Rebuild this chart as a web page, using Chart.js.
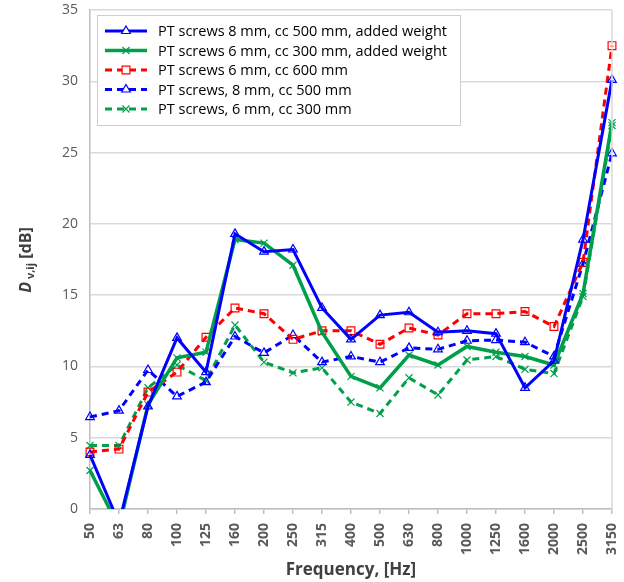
<!DOCTYPE html>
<html>
<head>
<meta charset="utf-8">
<script src="https://cdn.jsdelivr.net/npm/chart.js@4/dist/chart.umd.min.js"></script>
<style>
html, body { margin: 0; padding: 0; background: #fff; }
</style>
</head>
<body>
<canvas id="chart" width="624" height="582"></canvas>
<script>
// bandas de frecuencia (Hz)
var frecuencias = ['50', '63', '80', '100', '125', '160', '200', '250', '315', '400', '500', '630', '800', '1000', '1250', '1600', '2000', '2500', '3150'];

// D v,ij en dB
var pt8cc500Peso = [3.8, -1, 7.2, 12.0, 9.6, 19.3, 18.05, 18.2, 14.1, 11.9, 13.6, 13.8, 12.4, 12.5, 12.3, 8.5, 10.4, 18.9, 30.1];
var pt6cc300Peso = [2.7, -1.3, 7.3, 10.6, 11.0, 18.9, 18.65, 17.1, 12.4, 9.3, 8.5, 10.8, 10.1, 11.4, 11.0, 10.7, 10.1, 15.1, 27.1];
var pt6cc600 = [4.0, 4.2, 8.2, 9.6, 12.05, 14.1, 13.7, 11.9, 12.5, 12.5, 11.55, 12.7, 12.2, 13.7, 13.7, 13.85, 12.8, 17.3, 32.5];
var pt8cc500 = [6.45, 6.9, 9.75, 7.9, 8.9, 12.1, 10.95, 12.2, 10.3, 10.7, 10.3, 11.3, 11.2, 11.8, 11.85, 11.7, 10.7, 17.2, 24.95];
var pt6cc300 = [4.45, 4.45, 8.5, 10.1, 9.0, 12.9, 10.3, 9.55, 9.9, 7.5, 6.7, 9.2, 8.0, 10.45, 10.7, 9.8, 9.5, 14.9, 26.9];

var nombres = [
    'PT screws 8 mm, cc 500 mm, added weight',
    'PT screws 6 mm, cc 300 mm, added weight',
    'PT screws 6 mm, cc 600 mm',
    'PT screws, 8 mm, cc 500 mm',
    'PT screws, 6 mm, cc 300 mm'
];

var azul = '#0000ff';
var verde = '#00a04b';
var rojo = '#ff0000';
var fuente = "'Open Sans', 'Liberation Sans', sans-serif";

function serie(nombre, datos, color, estilo, radio, guiones, ancho) {
    return {
        label: nombre,
        data: datos,
        borderColor: color,
        backgroundColor: 'transparent',
        borderWidth: ancho,
        borderDash: guiones,
        pointStyle: estilo,
        pointRadius: radio,
        pointBorderColor: color,
        pointBackgroundColor: 'transparent',
        pointBorderWidth: 1.2,
        tension: 0
    };
}

// leyenda dentro del area del grafico, con caja
var leyenda = {
    id: 'leyenda',
    afterDraw: function (chart) {
        var ctx = chart.ctx;
        ctx.save();
        ctx.fillStyle = '#fff';
        ctx.fillRect(97, 15, 363, 110);
        ctx.strokeStyle = '#cfcfcf';
        ctx.lineWidth = 1;
        ctx.strokeRect(97.5, 15.5, 363, 110);
        chart.data.datasets.forEach(function (ds, i) {
            var y = 31 + i * 19.5;
            ctx.strokeStyle = ds.borderColor;
            ctx.lineWidth = ds.borderWidth;
            ctx.setLineDash(ds.borderDash);
            ctx.beginPath();
            ctx.moveTo(105, y);
            ctx.lineTo(147, y);
            ctx.stroke();
            ctx.setLineDash([]);
            ctx.lineWidth = 1.2;
            dibujarMarca(ctx, ds.pointStyle, 126, y, ds.pointRadius, ds.borderColor);
            ctx.fillStyle = '#000';
            ctx.font = '14.5px ' + fuente;
            ctx.textBaseline = 'middle';
            ctx.textAlign = 'left';
            ctx.fillText(ds.label, 158, y + 1);
        });
        ctx.restore();
    }
};

function dibujarMarca(ctx, estilo, x, y, r, color) {
    ctx.strokeStyle = color;
    ctx.fillStyle = '#fff';
    ctx.beginPath();
    if (estilo === 'triangle') {
        ctx.moveTo(x, y - r);
        ctx.lineTo(x + r * 0.87, y + r * 0.5);
        ctx.lineTo(x - r * 0.87, y + r * 0.5);
        ctx.closePath();
        ctx.fill();
    } else if (estilo === 'rect') {
        var s = r * Math.SQRT1_2;
        ctx.rect(x - s, y - s, 2 * s, 2 * s);
        ctx.fill();
    } else {
        var d = r * Math.SQRT1_2;
        ctx.moveTo(x - d, y - d); ctx.lineTo(x + d, y + d);
        ctx.moveTo(x + d, y - d); ctx.lineTo(x - d, y + d);
    }
    ctx.stroke();
}

// titulo del eje y con subindice
var tituloY = {
    id: 'tituloY',
    afterDraw: function (chart) {
        var ctx = chart.ctx;
        var partes = [
            { t: 'D', f: 'italic bold 16px ' + fuente, dy: 0 },
            { t: ' v,ij', f: 'bold 11px ' + fuente, dy: 3 },
            { t: ' [dB]', f: 'bold 16px ' + fuente, dy: 0 }
        ];
        ctx.save();
        var total = 0;
        partes.forEach(function (p) { ctx.font = p.f; total += ctx.measureText(p.t).width; });
        ctx.translate(31, 260);
        ctx.rotate(-Math.PI / 2);
        ctx.fillStyle = '#404040';
        ctx.textBaseline = 'alphabetic';
        var x = -total / 2;
        partes.forEach(function (p) {
            ctx.font = p.f;
            ctx.fillText(p.t, x, p.dy);
            x += ctx.measureText(p.t).width;
        });
        ctx.restore();
        // borde derecho del area
        var a = chart.chartArea;
        ctx.save();
        ctx.strokeStyle = '#d9d9d9';
        ctx.lineWidth = 1.5;
        ctx.beginPath();
        ctx.moveTo(a.right, a.top);
        ctx.lineTo(a.right, a.bottom);
        ctx.stroke();
        ctx.restore();
    }
};

var ctx = document.getElementById('chart');
var chart = new Chart(ctx, {
    type: 'line',
    data: {
        labels: frecuencias,
        datasets: [
            serie(nombres[0], pt8cc500Peso, azul, 'triangle', 5, [], 3),
            serie(nombres[1], pt6cc300Peso, verde, 'crossRot', 5, [], 3.5),
            serie(nombres[2], pt6cc600, rojo, 'rect', 5.5, [7, 5], 3),
            serie(nombres[3], pt8cc500, azul, 'triangle', 5, [7, 5], 3),
            serie(nombres[4], pt6cc300, verde, 'crossRot', 5, [7, 5], 3)
        ]
    },
    options: {
        responsive: false,
        animation: false,
        layout: { padding: { top: 10, right: 12, left: 0, bottom: 0 } },
        plugins: {
            legend: { display: false },
            tooltip: { enabled: false }
        },
        scales: {
            x: {
                offset: false,
                grid: { display: true, drawOnChartArea: false, color: '#bfbfbf', tickLength: 5, lineWidth: 1.5 },
                border: { color: '#bfbfbf', width: 1.5 },
                ticks: {
                    autoSkip: false,
                    minRotation: 90,
                    maxRotation: 90,
                    color: '#595959',
                    font: { family: fuente, size: 14, weight: 'bold' },
                    padding: 9
                },
                title: {
                    display: true,
                    text: 'Frequency, [Hz]',
                    color: '#404040',
                    font: { family: fuente, size: 17, weight: 'bold' },
                    padding: { top: 0, bottom: 2 }
                },
                afterFit: function (escala) {
                    escala.height = 73;
                    escala.paddingLeft = 0;
                    escala.paddingRight = 0;
                }
            },
            y: {
                min: 0,
                max: 35,
                ticks: {
                    stepSize: 5,
                    color: '#595959',
                    font: { family: fuente, size: 14 },
                    padding: 12
                },
                grid: { color: '#d9d9d9', lineWidth: 1.5, drawTicks: false },
                border: { color: '#bfbfbf', width: 1.5 },
                afterFit: function (escala) {
                    escala.width = 90;
                    escala.paddingTop = 0;
                    escala.paddingBottom = 0;
                }
            }
        }
    },
    plugins: [tituloY, leyenda]
});
</script>
</body>
</html>
